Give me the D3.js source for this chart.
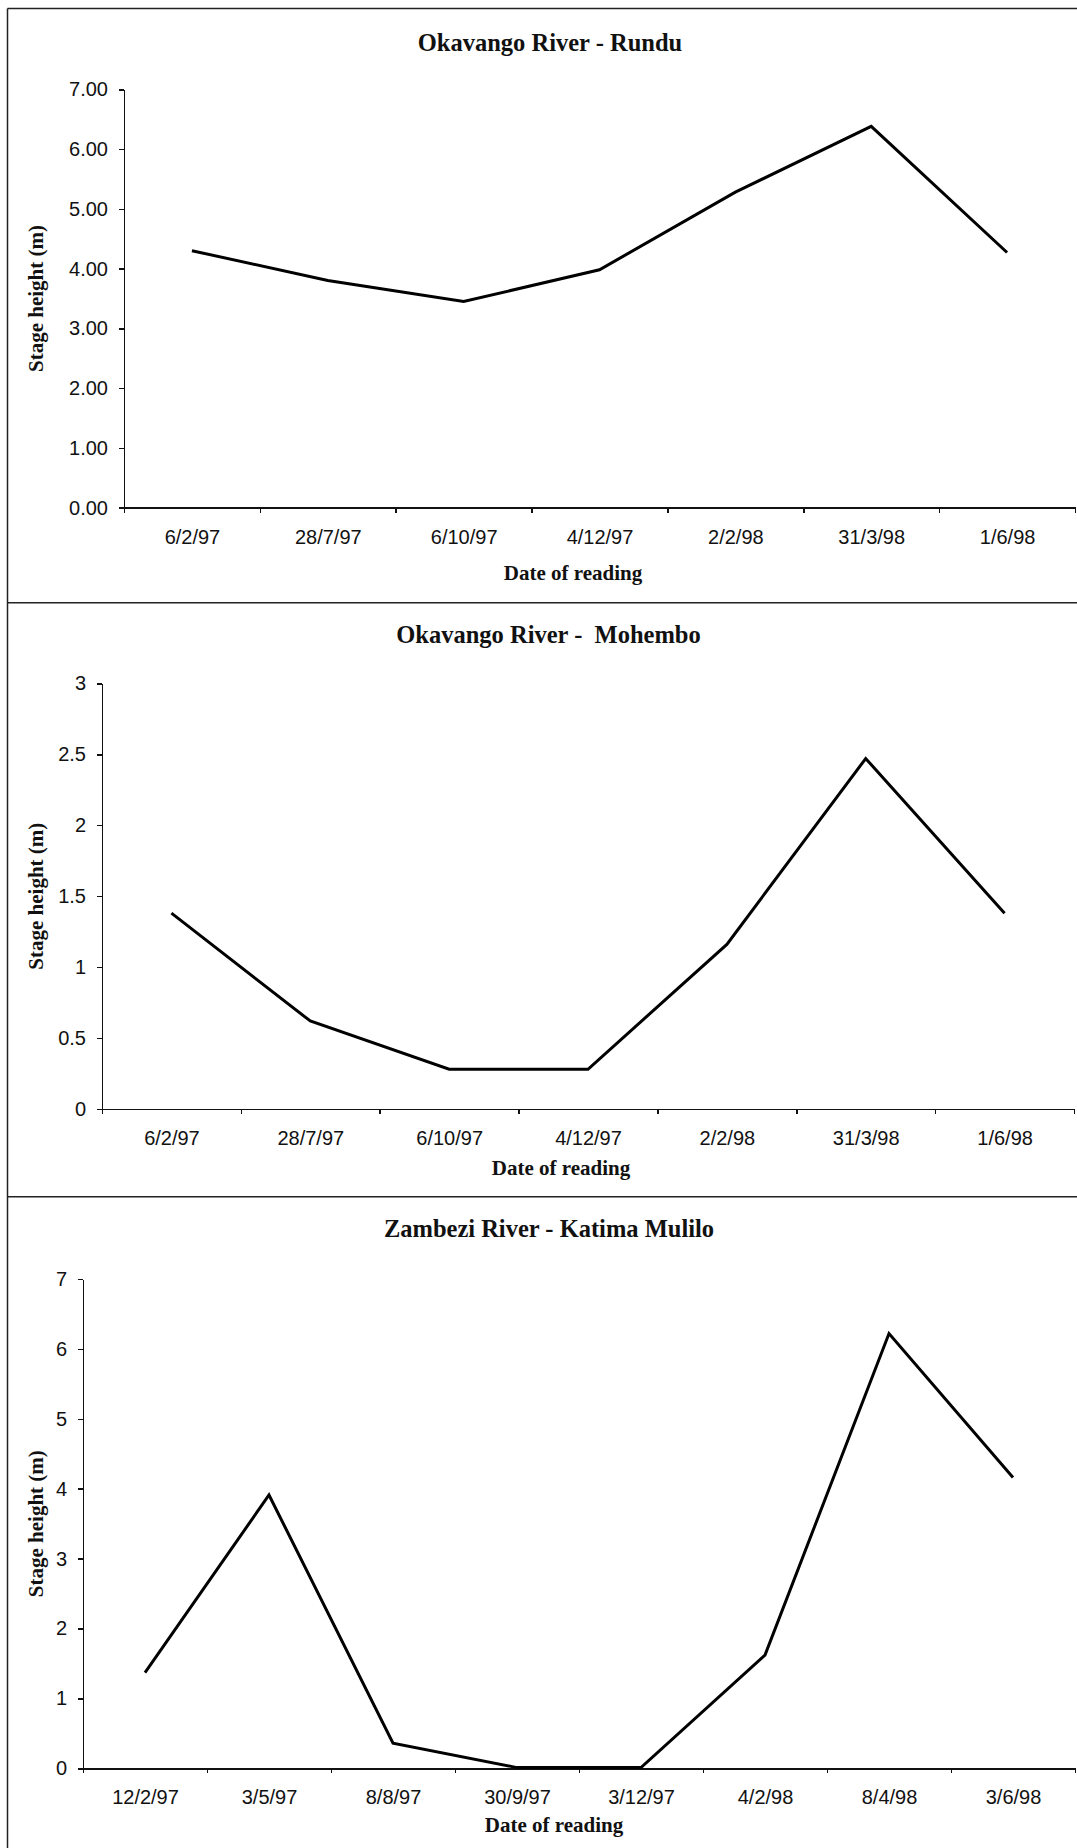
<!DOCTYPE html>
<html>
<head>
<meta charset="utf-8">
<script src="https://cdn.jsdelivr.net/npm/d3@7"></script>
<style>
    body {margin: 0; background: #fff;}
    svg {display: block;}
    .axis path, .axis line {stroke: #111; stroke-width: 1.5px; shape-rendering: crispEdges;}
    .axis text {font-family: "Liberation Sans", Arial, sans-serif; font-size: 20px; fill: #111;}
    .title {font-family: "Liberation Serif", "Times New Roman", serif; font-weight: bold; font-size: 24.5px; fill: #111;}
    .axis-title {font-family: "Liberation Serif", "Times New Roman", serif; font-weight: bold; font-size: 21px; fill: #111;}
    .line {fill: none; stroke: #000; stroke-width: 3px; stroke-linejoin: miter;}
    .frame {stroke: #222; stroke-width: 1.5px;}
</style>
</head>
<body>
<svg id="chart" width="1077" height="1848"></svg>
<script>
// data
var runduDates = ["6/2/97", "28/7/97", "6/10/97", "4/12/97", "2/2/98", "31/3/98", "1/6/98"];
var runduValues = [4.30, 3.80, 3.45, 3.98, 5.28, 6.38, 4.27];

var mohemboDates = ["6/2/97", "28/7/97", "6/10/97", "4/12/97", "2/2/98", "31/3/98", "1/6/98"];
var mohemboValues = [1.38, 0.62, 0.28, 0.28, 1.16, 2.47, 1.38];

var katimaDates = ["12/2/97", "3/5/97", "8/8/97", "30/9/97", "3/12/97", "4/2/98", "8/4/98", "3/6/98"];
var katimaValues = [1.37, 3.91, 0.36, 0.01, 0.01, 1.62, 6.22, 4.16];

var runduTicks = [0, 1, 2, 3, 4, 5, 6, 7];
var mohemboTicks = [0, 0.5, 1, 1.5, 2, 2.5, 3];
var katimaTicks = [0, 1, 2, 3, 4, 5, 6, 7];

var svg = d3.select("#chart");

// panel frame lines (scanned page border)
var frameLeft = 7.5;
[8.6, 602.7, 1196.7].forEach(function(y) {
    svg.append("line").attr("class", "frame")
        .attr("x1", frameLeft).attr("x2", 1077).attr("y1", y).attr("y2", y);
});
svg.append("line").attr("class", "frame")
    .attr("x1", frameLeft).attr("x2", frameLeft).attr("y1", 8.6).attr("y2", 1848);

var panels = [
    {title: "Okavango River - Rundu", dates: runduDates, values: runduValues, ticks: runduTicks,
        fmt: d3.format(".2f"), left: 124, right: 1075, top: 89.3, bottom: 507.7,
        titleY: 50.5, titleX: 550, xTitleY: 580, xTitleX: 573},
    {title: "Okavango River -\u00a0 Mohembo", dates: mohemboDates, values: mohemboValues, ticks: mohemboTicks,
        fmt: function(v) {return String(v)}, left: 102, right: 1074, top: 683.3, bottom: 1109,
        titleY: 642.5, titleX: 548.5, xTitleY: 1175, xTitleX: 561},
    {title: "Zambezi River - Katima Mulilo", dates: katimaDates, values: katimaValues, ticks: katimaTicks,
        fmt: d3.format("d"), left: 83, right: 1075, top: 1279, bottom: 1768.3,
        titleY: 1237, titleX: 549, xTitleY: 1831.5, xTitleX: 554}
];

panels.forEach(function(p) {
    var n = p.dates.length;

    var x = d3.scaleLinear()
        .domain([0, n])
        .range([p.left, p.right]);

    var y = d3.scaleLinear()
        .domain([0, d3.max(p.ticks)])
        .range([p.bottom, p.top]);

    var g = svg.append("g");

    // y axis
    var yAxis = d3.axisLeft(y)
        .tickValues(p.ticks)
        .tickFormat(p.fmt)
        .tickSizeInner(5)
        .tickSizeOuter(0)
        .tickPadding(11);

    g.append("g")
        .attr("class", "axis axis--y")
        .attr("transform", "translate(" + p.left + ",0)")
        .call(yAxis);

    // x axis: ticks on category boundaries
    var xTickAxis = d3.axisBottom(x)
        .tickValues(d3.range(n + 1))
        .tickFormat("")
        .tickSizeInner(5)
        .tickSizeOuter(0);

    g.append("g")
        .attr("class", "axis axis--x")
        .attr("transform", "translate(0," + p.bottom + ")")
        .call(xTickAxis);

    // x labels at category centres
    var xLabelAxis = d3.axisBottom(x)
        .tickValues(d3.range(n).map(function(i) {return i + 0.5}))
        .tickFormat(function(v) {return p.dates[Math.floor(v)]})
        .tickSize(0)
        .tickPadding(22);

    var labels = g.append("g")
        .attr("class", "axis axis--x-labels")
        .attr("transform", "translate(0," + p.bottom + ")")
        .call(xLabelAxis);
    labels.select(".domain").remove();

    // line
    var line = d3.line()
        .x(function(d, i) {return x(i + 0.5)})
        .y(function(d) {return y(d)});

    g.append("path")
        .datum(p.values)
        .attr("class", "line")
        .attr("d", line);

    // titles
    g.append("text")
        .attr("class", "title")
        .attr("x", p.titleX)
        .attr("y", p.titleY)
        .attr("text-anchor", "middle")
        .text(p.title);

    g.append("text")
        .attr("class", "axis-title")
        .attr("x", p.xTitleX)
        .attr("y", p.xTitleY)
        .attr("text-anchor", "middle")
        .text("Date of reading");

    g.append("text")
        .attr("class", "axis-title")
        .attr("transform", "translate(43," + ((p.top + p.bottom) / 2) + ") rotate(-90)")
        .attr("text-anchor", "middle")
        .text("Stage height (m)");
});
</script>
</body>
</html>
